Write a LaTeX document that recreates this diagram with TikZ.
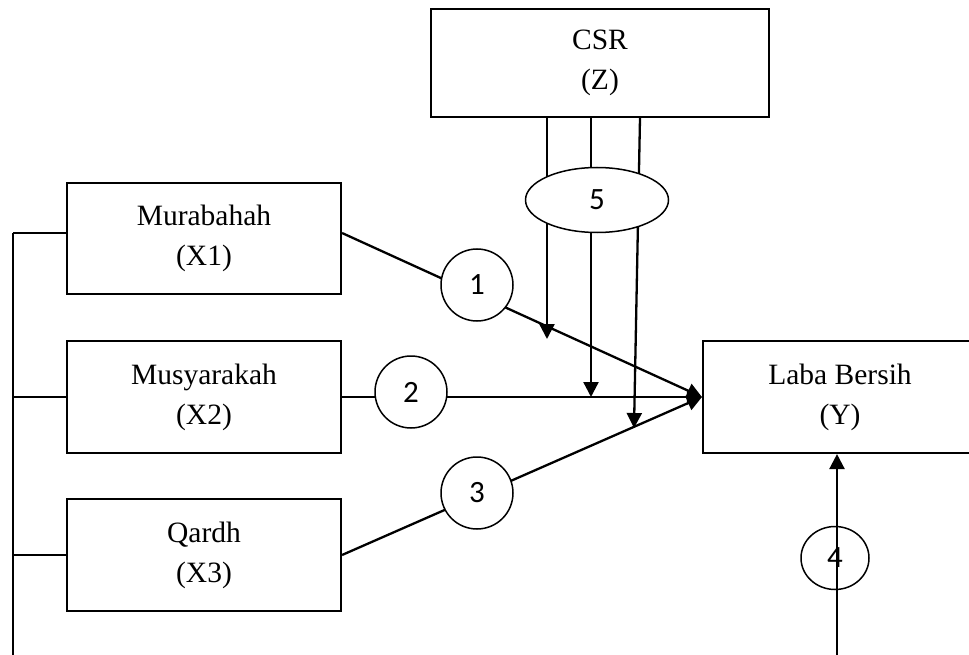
\documentclass[tikz,border=0pt]{standalone}
\usepackage{fontspec}
\setmainfont{Liberation Serif}
\newfontfamily\numfont{Carlito}
\usetikzlibrary{arrows.meta,shapes.geometric,calc}
\begin{document}
\begin{tikzpicture}[x=1pt,y=-1pt,
  box/.style={draw,line width=2.1pt,minimum width=274pt,minimum height=112pt,inner sep=0pt,align=center,font=\fontsize{29.5}{40}\selectfont},
  conn/.style={line width=2.3pt},
  arr/.style={line width=2.3pt,-{Triangle[length=15pt,width=15pt]}},
  num/.style={draw,line width=1.5pt,circle,minimum size=72pt,inner sep=0pt,fill=white,font=\numfont\fontsize{31}{31}\selectfont}
]
\useasboundingbox (0,0) rectangle (969,655);
% boxes
\node[box,minimum width=338pt,minimum height=108pt] (csr) at (600,63) {CSR\\(Z)};
\node[box,minimum height=111pt] (mur) at (204,238.5) {Murabahah\\(X1)};
\node[box] (mus) at (204,397) {Musyarakah\\(X2)};
\node[box] (qar) at (204,555) {Qardh\\(X3)};
\node[box] (laba) at (840,397) {Laba Bersih\\(Y)};
% bus on left
\coordinate (b0) at (13,233);
\coordinate (b1) at (13,397);
\coordinate (b2) at (13,555);
\coordinate (bend) at (13,655);
\draw[conn] (b0) -- (bend);
\draw[conn] (b0) -- (b0 -| mur.west);
\draw[conn] (b1) -- (mus.west);
\draw[conn] (b2) -- (qar.west);
% main connectors
\draw[arr] (mur.east |- b0) -- (laba.west);
\draw[arr] (mus.east) -- (laba.west);
\draw[arr] (qar.east) -- (laba.west);
% moderation arrows from CSR
\coordinate (t1) at (547,339);
\coordinate (t2) at (591,397);
\coordinate (t3) at (634,428);
\draw[arr] ($(csr.south)+(-53,0)$) -- (t1);
\draw[arr] ($(csr.south)+(-9,0)$) -- (t2);
\draw[arr] ($(csr.south)+(40,0)$) -- (t3);
% arrow 4
\coordinate (a4) at (837,655);
\draw[arr] (a4) -- (a4 |- laba.south);
% number markers
\node[num] (n1) at (477,285) {1};
\node[num] (n2) at (411,392) {2};
\node[num] (n3) at (477,493) {3};
\node[num,ellipse,minimum width=143pt,minimum height=65pt] (n5) at (597,200) {5};
\node[num,ellipse,fill=none,minimum width=68pt,minimum height=63pt] (n4) at (835,558) {4};
\end{tikzpicture}
\end{document}
